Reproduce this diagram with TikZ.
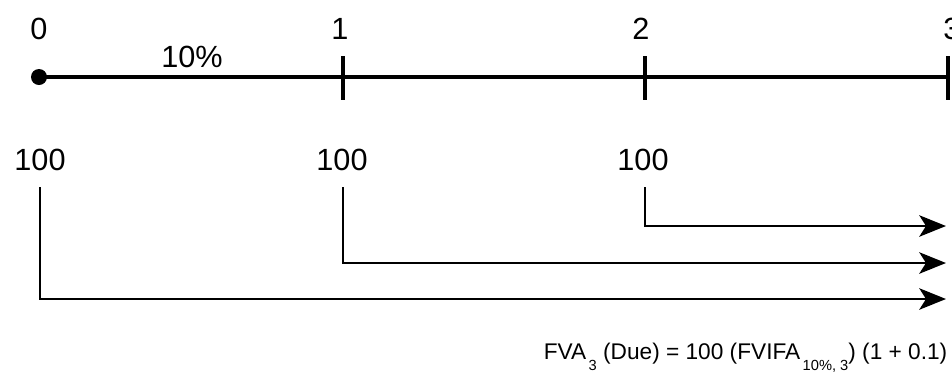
\documentclass[tikz,border=0pt]{standalone}
\usepackage{fontspec}
\setmainfont{Liberation Sans}
\usetikzlibrary{arrows.meta}
\newcommand\lowsub[1]{\raisebox{-0.5em}{\fontsize{11}{13}\selectfont\,#1}}
\begin{document}
\begin{tikzpicture}[x=0.75pt, y=-0.75pt, >={Stealth[length=20pt, width=16pt, inset=5pt]}, every node/.style={font=\fontsize{23}{27}\selectfont}]
        \useasboundingbox (0,0) rectangle (952,383);
        % Zeitachse
        \coordinate (p0) at (39,77);
        \coordinate (p1) at (343,77);
        \coordinate (p2) at (645,77);
        \coordinate (p3) at (948,77);
        \node (t0) at (39,29) {0};
        \node (t1) at (340,29) {1};
        \node (t2) at (641,29) {2};
        \node (t3) at (952,29) {3};
        \node (rate) at (192,57) {10\%};
        \draw[line width=3pt] (p0) -- (p3);
        \fill (p0) circle (6pt);
        \foreach \p in {p1,p2,p3}
            \draw[line width=3pt] ([yshift=-17pt]\p) -- ([yshift=16pt]\p);
    
        % Zahlungen
        \node (c0) at (40,160) {100};
        \node (c1) at (342,160) {100};
        \node (c2) at (643,160) {100};
        \coordinate (s0) at (40,187);
        \coordinate (s1) at (343,187);
        \coordinate (s2) at (645,187);
        \coordinate (e0) at (946,299);
        \coordinate (e1) at (946,263);
        \coordinate (e2) at (946,226);
    
        % Pfeile
        \draw[->, line width=2.2pt] (s2) |- (e2);
        \draw[->, line width=2.2pt] (s1) |- (e1);
        \draw[->, line width=2.2pt] (s0) |- (e0);
    
        % Formel
        \node[anchor=east, font=\fontsize{17}{21}\selectfont] (fva) at (952,358) {FVA\lowsub{3} (Due) = 100 (FVIFA\lowsub{10\%, 3}) (1 + 0.1)};
    \end{tikzpicture}
\end{document}
